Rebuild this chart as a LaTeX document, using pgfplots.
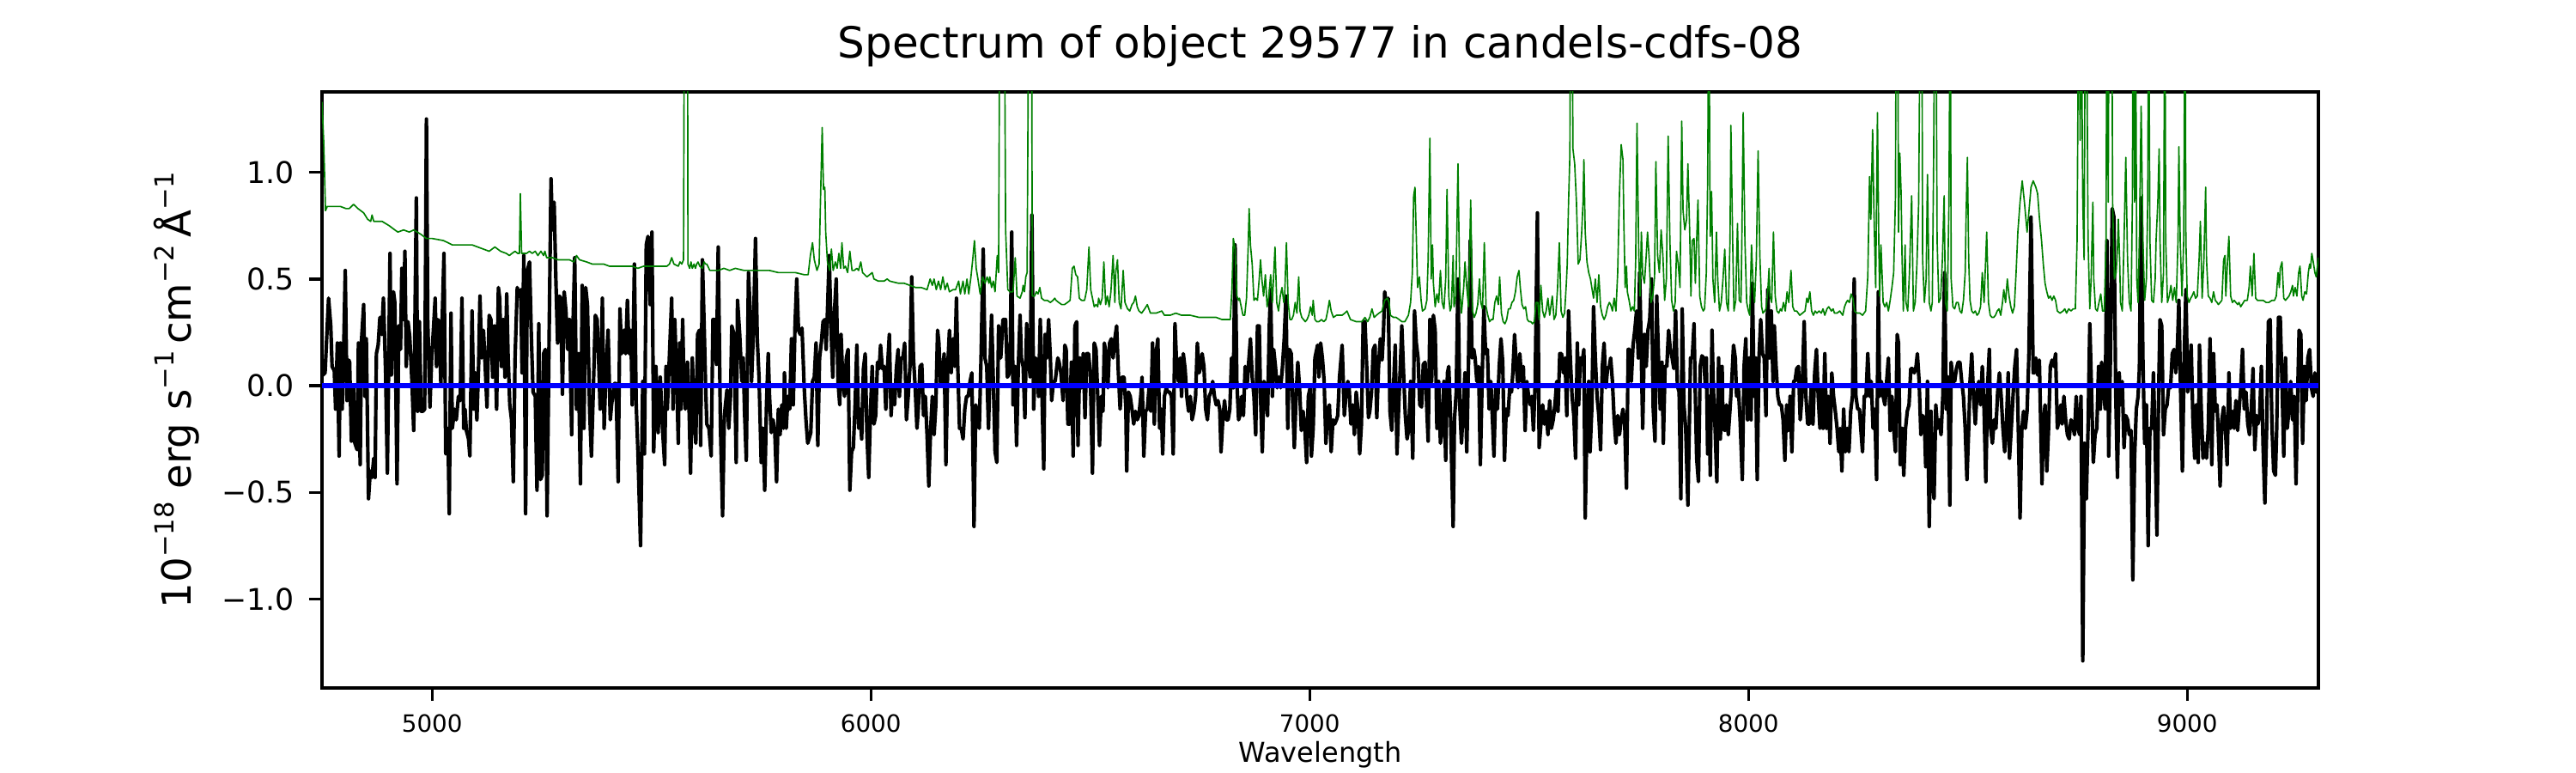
\documentclass[border=0pt]{standalone}
\usepackage{fontspec}
\setmainfont{DejaVu Sans}
\usepackage{pgfplots}
\pgfplotsset{compat=1.18}
\definecolor{mplgreen}{rgb}{0,0.5,0}
\newcommand\sups[1]{\raisebox{7bp}{\fontsize{11bp}{12bp}\selectfont #1}}
\begin{document}
\begin{tikzpicture}
\useasboundingbox (-135bp,-35.64bp) rectangle (945bp,288.36bp);
\begin{axis}[
 at={(0,0)}, anchor=south west,
 scale only axis, width=837bp, height=249.84bp,
 xmin=4749, xmax=9299, ymin=-1.417, ymax=1.377,
 xtick={5000,6000,7000,8000,9000},
 xticklabels={5000,6000,7000,8000,9000},
 ytick={-1,-0.5,0,0.5,1},
 yticklabels={−1.0,−0.5,0.0,0.5,1.0},
 xtick pos=left, ytick pos=left,
 tick align=outside,
 major tick length=5.4bp,
 tick style={line width=1.2bp, black},
 axis line style={line width=1.2bp},
 xticklabel style={font=\fontsize{10bp}{12bp}\selectfont, anchor=base, inner sep=0pt, yshift=-13bp},
 yticklabel style={font=\fontsize{12.5bp}{15bp}\selectfont, anchor=east, inner sep=0pt, xshift=-6.1bp},
 title={Spectrum of object 29577 in candels-cdfs-08},
 title style={at={(0.5,1.0332)}, anchor=base, inner sep=0pt, font=\fontsize{18bp}{22bp}\selectfont},
 xlabel={Wavelength},
 xlabel style={at={(0.5,-0.124)}, anchor=base, inner sep=0pt, font=\fontsize{11.5bp}{14bp}\selectfont},
 ylabel={10\sups{−18} erg s\sups{−1}\,cm\sups{−2}\,Å\sups{−1}},
 ylabel style={at={(-0.0657,0.5)}, anchor=base, inner sep=0pt, font=\fontsize{16.8bp}{20bp}\selectfont},
 clip=true,
]
% flux (black)
\addplot[black, line width=1.5bp, line join=round] coordinates {
(4749,0.05)(4751,0.05)(4756,0.06)(4764,0.41)(4769,0.28)(4772,0.09)(4777,0.07)(4780,-0.11)(4784,0.20)(4788,-0.33)(4791,0.20)(4795,-0.11)(4798,0.13)(4802,0.54)(4806,-0.07)(4810,0.12)(4812,0.11)(4816,-0.26)(4821,-0.01)(4824,-0.27)(4829,-0.30)(4832,0.20)(4836,-0.37)(4839,0.21)(4844,0.38)(4847,-0.05)(4850,0.22)(4855,-0.53)(4859,-0.40)(4863,-0.43)(4867,-0.34)(4870,-0.43)(4873,0.15)(4877,0.19)(4881,0.32)(4885,0.24)(4889,0.41)(4894,0.06)(4898,-0.41)(4904,0.62)(4907,0.05)(4912,0.44)(4915,0.39)(4920,-0.46)(4924,0.28)(4928,0.17)(4931,0.55)(4935,0.31)(4938,0.63)(4941,0.09)(4945,0.30)(4949,0.23)(4954,0.02)(4958,-0.21)(4964,0.88)(4967,-0.12)(4971,0.30)(4975,-0.12)(4979,-0.12)(4983,-0.11)(4987,1.25)(4990,0.31)(4995,-0.10)(4999,0.13)(5002,0.23)(5007,0.41)(5010,0.09)(5013,0.31)(5016,0.30)(5020,0.00)(5023,0.31)(5027,0.62)(5031,-0.32)(5036,-0.20)(5039,-0.60)(5043,0.34)(5046,-0.20)(5051,-0.11)(5055,-0.16)(5060,-0.05)(5064,-0.07)(5068,0.41)(5072,-0.20)(5075,-0.11)(5078,-0.21)(5083,-0.25)(5086,-0.33)(5091,0.35)(5095,-0.11)(5098,0.06)(5102,-0.16)(5106,0.10)(5109,0.42)(5113,0.13)(5117,0.26)(5121,0.09)(5125,-0.10)(5130,0.33)(5134,0.31)(5138,0.04)(5142,0.28)(5147,-0.11)(5151,0.46)(5154,0.41)(5158,0.09)(5162,0.31)(5166,0.04)(5170,0.43)(5173,0.15)(5177,-0.09)(5181,-0.16)(5185,-0.45)(5189,0.13)(5194,0.46)(5198,0.42)(5202,0.45)(5205,0.06)(5209,0.61)(5213,-0.60)(5217,0.54)(5222,0.58)(5226,0.24)(5230,-0.03)(5235,-0.05)(5239,-0.49)(5243,0.29)(5247,-0.44)(5251,-0.42)(5254,0.15)(5258,0.17)(5262,-0.61)(5266,0.13)(5271,0.97)(5274,0.73)(5278,0.86)(5282,0.50)(5286,0.20)(5290,0.42)(5293,0.41)(5297,-0.04)(5301,0.44)(5305,0.35)(5309,0.17)(5313,0.31)(5318,-0.23)(5321,0.28)(5325,0.60)(5329,-0.11)(5333,0.15)(5338,-0.46)(5342,0.47)(5346,-0.20)(5350,0.46)(5354,0.38)(5359,-0.12)(5363,-0.33)(5367,-0.05)(5372,0.33)(5376,0.31)(5380,0.09)(5383,-0.11)(5388,0.41)(5392,-0.20)(5396,0.06)(5401,0.26)(5406,-0.16)(5409,-0.09)(5415,0.01)(5419,0.01)(5424,-0.45)(5428,0.36)(5432,0.15)(5437,0.26)(5441,0.15)(5445,0.40)(5449,0.15)(5453,0.26)(5456,-0.09)(5461,0.57)(5465,-0.08)(5469,-0.31)(5475,-0.75)(5480,0.02)(5484,-0.32)(5488,0.66)(5492,0.70)(5497,0.38)(5501,0.72)(5505,-0.31)(5510,0.09)(5515,-0.22)(5520,0.04)
(5525,-0.20)(5530,-0.37)(5533,0.09)(5536,-0.11)(5541,0.15)(5546,0.41)(5549,-0.11)(5553,0.31)(5558,-0.01)(5561,-0.27)(5564,0.20)(5567,-0.11)(5571,0.31)(5574,-0.01)(5577,-0.11)(5582,0.11)(5586,-0.14)(5589,-0.41)(5593,0.13)(5598,-0.20)(5601,-0.27)(5605,0.24)(5609,0.26)(5612,-0.28)(5616,0.59)(5620,0.28)(5623,0.02)(5626,-0.18)(5631,-0.20)(5636,-0.33)(5640,0.31)(5644,0.31)(5648,0.10)(5652,0.65)(5657,-0.18)(5662,-0.61)(5666,-0.14)(5672,-0.02)(5676,-0.20)(5680,-0.05)(5683,0.28)(5688,0.24)(5693,-0.36)(5696,0.40)(5701,0.24)(5706,0.02)(5709,0.13)(5712,-0.12)(5716,-0.35)(5721,0.53)(5724,0.39)(5728,0.02)(5732,0.24)(5737,0.69)(5741,0.22)(5745,0.04)(5750,-0.36)(5754,-0.20)(5758,-0.49)(5762,-0.09)(5766,0.15)(5769,-0.05)(5773,-0.22)(5777,-0.16)(5781,-0.22)(5785,-0.45)(5789,-0.11)(5793,-0.23)(5797,-0.09)(5801,-0.20)(5803,0.06)(5807,-0.20)(5811,-0.05)(5815,-0.11)(5819,0.22)(5823,-0.09)(5827,0.28)(5831,0.50)(5835,0.26)(5839,0.24)(5843,0.27)(5848,-0.01)(5852,-0.16)(5856,-0.27)(5859,-0.25)(5863,-0.22)(5867,0.02)(5871,0.04)(5875,0.20)(5879,-0.28)(5883,0.13)(5887,0.20)(5891,0.30)(5895,0.31)(5898,0.17)(5901,0.35)(5905,0.61)(5909,0.28)(5913,0.04)(5917,0.35)(5921,0.50)(5925,0.02)(5929,-0.09)(5932,0.24)(5936,0.02)(5940,-0.05)(5944,0.13)(5948,0.17)(5952,-0.49)(5956,-0.31)(5960,-0.29)(5964,-0.09)(5968,0.19)(5972,-0.20)(5975,-0.11)(5979,-0.25)(5983,0.08)(5987,0.15)(5991,-0.23)(5995,-0.43)(5999,-0.12)(6003,0.09)(6007,-0.18)(6011,-0.14)(6015,0.11)(6019,0.08)(6022,0.19)(6026,0.08)(6030,0.09)(6034,-0.11)(6038,0.09)(6042,0.24)(6046,-0.14)(6050,0.00)(6054,-0.09)(6058,0.08)(6062,0.17)(6065,-0.05)(6069,0.13)(6073,0.13)(6077,0.20)(6081,-0.16)(6085,-0.05)(6089,0.09)(6093,0.51)(6097,0.13)(6101,-0.01)(6105,-0.20)(6108,-0.11)(6112,0.09)(6116,0.10)(6120,-0.14)(6124,-0.05)(6128,-0.23)(6132,-0.47)(6136,-0.21)(6140,-0.05)(6144,-0.23)(6148,-0.09)(6152,0.26)(6155,0.20)(6159,0.00)(6163,0.06)(6167,0.15)(6171,-0.37)(6175,0.08)(6179,0.26)(6183,0.06)(6187,0.22)(6191,0.09)(6195,0.41)(6198,0.09)(6202,-0.20)(6206,-0.20)(6210,-0.25)(6214,-0.11)(6218,-0.05)(6222,-0.05)(6226,0.02)(6230,0.06)(6235,-0.66)(6239,-0.09)(6243,-0.14)(6247,-0.20)(6251,0.13)(6256,0.64)(6260,0.13)(6264,0.09)(6268,-0.20)(6272,0.13)(6275,0.33)(6279,0.02)(6283,-0.31)(6287,-0.36)(6291,0.28)(6296,0.13)(6301,0.31)
(6307,0.31)(6311,0.04)(6314,0.05)(6317,0.09)(6321,0.72)(6324,-0.09)(6328,0.09)(6332,-0.28)(6336,0.09)(6340,0.33)(6343,0.13)(6347,0.09)(6351,-0.15)(6355,0.29)(6359,0.13)(6363,0.04)(6367,0.80)(6371,-0.11)(6375,0.13)(6379,0.11)(6382,-0.05)(6386,0.31)(6390,-0.05)(6394,-0.39)(6397,0.24)(6401,0.13)(6405,0.31)(6409,0.13)(6412,-0.07)(6416,0.02)(6420,0.02)(6426,0.13)(6429,0.11)(6433,0.06)(6438,-0.07)(6442,0.19)(6445,0.17)(6449,-0.18)(6453,-0.18)(6457,0.11)(6461,-0.33)(6465,0.28)(6469,0.30)(6472,-0.28)(6476,0.13)(6480,-0.01)(6484,0.15)(6488,-0.15)(6492,0.15)(6496,0.15)(6500,0.06)(6505,-0.41)(6509,0.20)(6513,0.17)(6517,-0.05)(6521,-0.28)(6525,-0.05)(6529,-0.12)(6532,0.20)(6536,0.15)(6540,-0.01)(6544,0.20)(6548,0.22)(6552,0.13)(6556,0.22)(6560,0.28)(6564,0.06)(6568,-0.11)(6572,0.04)(6577,0.04)(6581,-0.10)(6583,-0.40)(6587,-0.03)(6591,-0.05)(6595,-0.11)(6599,-0.18)(6603,-0.12)(6607,-0.16)(6611,-0.14)(6615,-0.05)(6618,0.04)(6622,-0.33)(6626,-0.12)(6630,-0.11)(6634,-0.01)(6638,-0.12)(6642,0.20)(6646,-0.18)(6650,0.15)(6654,0.22)(6658,-0.20)(6662,-0.11)(6665,-0.32)(6669,-0.05)(6673,-0.01)(6677,-0.03)(6681,-0.03)(6685,-0.05)(6689,-0.32)(6693,0.29)(6697,0.09)(6701,0.02)(6705,0.13)(6708,-0.05)(6712,0.15)(6716,0.08)(6720,-0.05)(6724,-0.12)(6728,-0.05)(6732,-0.16)(6736,-0.12)(6740,-0.05)(6744,0.20)(6748,0.06)(6752,0.09)(6755,0.15)(6759,0.09)(6763,-0.11)(6767,-0.16)(6771,-0.05)(6775,-0.03)(6779,0.02)(6783,-0.05)(6787,-0.09)(6791,-0.07)(6795,-0.11)(6798,-0.31)(6802,-0.16)(6806,-0.07)(6810,-0.16)(6814,-0.16)(6818,-0.11)(6822,0.13)(6826,-0.01)(6830,0.66)(6834,0.02)(6838,-0.16)(6841,-0.14)(6845,-0.05)(6849,-0.14)(6853,0.09)(6857,-0.01)(6861,0.11)(6865,0.22)(6869,0.04)(6873,-0.05)(6877,-0.23)(6881,0.28)(6885,0.28)(6888,-0.05)(6892,-0.31)(6896,0.02)(6900,-0.01)(6904,-0.14)(6908,0.28)(6911,0.45)(6915,-0.05)(6918,0.17)(6922,0.09)(6926,-0.01)(6930,0.04)(6934,-0.01)(6938,0.09)(6942,0.22)(6946,0.42)(6950,-0.20)(6954,0.17)(6958,0.15)(6961,-0.05)(6965,-0.29)(6969,-0.05)(6973,0.11)(6977,-0.01)(6981,-0.21)(6985,-0.12)(6989,-0.20)(6993,-0.36)(6997,-0.05)(7001,-0.01)(7004,-0.33)(7008,-0.20)(7012,0.13)(7018,0.19)(7021,0.04)(7025,0.20)(7029,0.13)(7033,0.02)(7037,-0.27)(7041,-0.11)(7045,-0.09)(7049,-0.31)(7053,-0.16)(7057,-0.18)(7061,-0.16)(7064,-0.14)(7068,0.04)(7074,0.19)(7079,-0.14)(7084,-0.01)
(7087,0.02)(7090,-0.01)(7094,-0.18)(7098,-0.09)(7102,-0.23)(7106,-0.03)(7110,-0.11)(7114,-0.32)(7118,-0.18)(7122,0.30)(7126,0.30)(7130,0.09)(7134,-0.15)(7137,-0.12)(7141,-0.03)(7145,0.17)(7149,0.19)(7153,-0.15)(7157,0.09)(7161,0.22)(7165,0.12)(7168,0.24)(7171,0.44)(7175,0.37)(7179,0.41)(7183,-0.12)(7187,-0.21)(7191,-0.01)(7195,0.19)(7199,-0.32)(7203,-0.09)(7207,0.11)(7210,0.28)(7214,0.06)(7218,-0.14)(7222,-0.25)(7226,-0.20)(7230,0.02)(7235,-0.34)(7239,0.35)(7243,0.20)(7247,0.13)(7251,-0.09)(7255,-0.10)(7259,0.10)(7263,0.11)(7267,-0.11)(7270,-0.26)(7274,0.31)(7278,0.02)(7282,0.33)(7286,0.26)(7290,-0.20)(7294,0.02)(7298,-0.27)(7302,-0.20)(7306,0.02)(7310,-0.35)(7314,0.06)(7317,0.09)(7321,-0.14)(7327,-0.66)(7330,-0.16)(7334,-0.03)(7338,0.50)(7342,-0.09)(7346,-0.27)(7350,-0.10)(7354,0.06)(7358,-0.31)(7362,0.11)(7366,0.68)(7370,0.13)(7374,0.17)(7377,0.13)(7381,0.02)(7385,0.09)(7389,-0.37)(7393,0.02)(7397,0.37)(7401,0.15)(7405,0.17)(7409,-0.11)(7413,0.02)(7417,-0.18)(7420,-0.33)(7424,-0.01)(7428,-0.11)(7432,0.09)(7436,0.22)(7440,0.11)(7444,-0.35)(7448,-0.11)(7452,-0.14)(7456,-0.01)(7460,-0.03)(7463,0.06)(7467,0.24)(7471,0.09)(7475,-0.01)(7479,0.15)(7483,0.02)(7487,0.09)(7491,-0.21)(7495,0.02)(7499,-0.05)(7503,-0.09)(7506,-0.05)(7510,-0.21)(7514,0.02)(7519,0.81)(7523,-0.29)(7527,-0.18)(7531,-0.09)(7535,-0.18)(7539,-0.12)(7543,-0.23)(7547,-0.07)(7551,-0.20)(7555,-0.16)(7559,-0.09)(7563,0.02)(7566,-0.12)(7570,0.15)(7574,0.15)(7578,0.06)(7582,0.13)(7586,-0.14)(7590,0.35)(7594,0.13)(7598,-0.05)(7602,-0.14)(7606,-0.34)(7610,0.20)(7613,-0.09)(7617,0.13)(7621,0.11)(7625,0.17)(7628,-0.62)(7632,-0.16)(7636,0.02)(7639,-0.31)(7643,-0.11)(7647,0.37)(7651,0.13)(7655,-0.05)(7659,-0.14)(7663,-0.30)(7667,0.09)(7671,0.20)(7675,-0.01)(7679,0.08)(7683,0.09)(7686,0.13)(7690,0.02)(7694,-0.16)(7698,-0.27)(7702,-0.14)(7706,-0.23)(7710,-0.16)(7714,-0.11)(7718,-0.18)(7722,-0.48)(7726,0.17)(7729,0.17)(7733,0.02)(7737,0.19)(7741,0.26)(7745,0.35)(7749,0.13)(7752,0.53)(7756,0.13)(7759,-0.20)(7763,0.24)(7767,0.09)(7771,0.26)(7775,0.31)(7779,0.50)(7783,-0.11)(7787,-0.26)(7791,0.42)(7795,0.13)(7799,-0.11)(7803,0.11)(7806,-0.27)(7810,0.09)(7814,0.09)(7818,0.26)(7822,0.17)(7826,0.13)(7830,0.08)(7834,0.35)(7838,0.00)(7842,-0.03)(7846,-0.53)(7849,0.36)(7853,-0.09)(7857,-0.20)(7862,-0.56)(7868,0.13)
(7872,0.13)(7876,0.29)(7879,-0.05)(7882,-0.34)(7886,-0.45)(7890,0.09)(7894,0.14)(7898,0.13)(7902,-0.01)(7904,0.13)(7907,-0.32)(7910,-0.05)(7913,-0.42)(7917,0.26)(7920,-0.01)(7924,-0.20)(7928,-0.45)(7932,0.13)(7936,-0.25)(7940,0.09)(7942,-0.20)(7946,-0.21)(7950,-0.09)(7954,-0.23)(7958,-0.11)(7962,0.02)(7966,0.19)(7970,0.13)(7973,-0.05)(7977,-0.01)(7981,-0.16)(7986,-0.44)(7990,0.09)(7994,0.22)(7998,-0.16)(8002,0.13)(8006,-0.16)(8009,0.48)(8013,-0.05)(8016,0.13)(8020,-0.44)(8024,0.13)(8028,0.31)(8032,0.15)(8036,0.13)(8040,-0.14)(8044,0.45)(8048,0.13)(8052,0.35)(8056,0.02)(8059,0.28)(8063,0.09)(8067,-0.05)(8071,-0.09)(8075,-0.09)(8079,-0.16)(8083,-0.35)(8087,-0.09)(8091,-0.21)(8095,-0.05)(8099,-0.31)(8103,0.02)(8106,0.02)(8110,0.08)(8114,0.09)(8118,-0.16)(8122,-0.05)(8127,0.30)(8131,-0.05)(8135,-0.18)(8139,-0.18)(8143,-0.01)(8147,-0.18)(8151,0.06)(8155,0.17)(8159,-0.05)(8163,-0.20)(8166,-0.01)(8170,-0.20)(8174,0.15)(8178,-0.20)(8182,-0.05)(8186,-0.27)(8190,0.06)(8194,-0.05)(8198,-0.12)(8202,-0.20)(8206,-0.31)(8209,-0.20)(8213,-0.40)(8217,-0.11)(8221,-0.31)(8225,-0.20)(8229,-0.31)(8233,-0.12)(8237,-0.05)(8241,0.50)(8245,-0.05)(8249,-0.11)(8253,-0.11)(8256,-0.20)(8260,-0.31)(8264,-0.05)(8268,-0.05)(8272,0.15)(8276,-0.05)(8280,0.02)(8284,-0.20)(8288,-0.11)(8292,-0.44)(8296,0.44)(8299,-0.05)(8303,0.02)(8307,-0.05)(8311,-0.09)(8315,0.02)(8319,0.13)(8323,-0.21)(8327,-0.05)(8331,-0.20)(8335,-0.31)(8339,0.24)(8342,0.20)(8346,-0.37)(8350,-0.20)(8354,-0.42)(8358,-0.20)(8362,-0.12)(8366,-0.09)(8370,0.08)(8374,0.08)(8378,0.06)(8382,0.09)(8385,0.15)(8389,0.02)(8393,-0.23)(8397,-0.14)(8401,-0.16)(8404,-0.38)(8408,0.02)(8412,-0.66)(8416,-0.12)(8419,-0.43)(8423,-0.53)(8427,-0.09)(8431,-0.20)(8435,-0.16)(8439,-0.23)(8443,-0.05)(8447,0.53)(8451,-0.11)(8455,0.04)(8459,-0.56)(8462,0.11)(8466,0.02)(8470,0.02)(8474,0.08)(8478,0.11)(8482,0.11)(8486,0.02)(8490,-0.05)(8494,-0.20)(8498,-0.44)(8502,-0.20)(8505,0.02)(8509,0.15)(8513,-0.05)(8517,-0.18)(8521,-0.03)(8525,0.02)(8529,-0.09)(8533,0.09)(8537,-0.11)(8541,-0.45)(8545,-0.01)(8549,0.17)(8552,-0.20)(8556,-0.27)(8560,-0.16)(8564,-0.20)(8568,-0.03)(8572,0.06)(8576,-0.05)(8580,-0.20)(8584,-0.31)(8588,-0.18)(8592,0.06)(8595,-0.34)(8599,-0.20)(8603,-0.05)(8607,0.09)(8611,0.17)(8615,-0.20)(8619,-0.62)(8623,-0.21)(8627,-0.12)(8631,-0.20)(8635,-0.12)(8639,0.13)(8644,0.79)(8649,0.06)
(8652,0.06)(8655,0.13)(8659,0.05)(8663,0.12)(8669,-0.46)(8672,-0.18)(8676,-0.09)(8680,-0.40)(8684,-0.20)(8688,0.09)(8692,0.12)(8696,0.09)(8700,0.15)(8704,-0.20)(8708,-0.16)(8712,-0.09)(8715,-0.18)(8719,-0.05)(8723,-0.16)(8727,-0.23)(8731,-0.25)(8735,-0.16)(8739,-0.18)(8743,-0.23)(8747,-0.05)(8751,-0.20)(8755,-0.23)(8758,-0.05)(8762,-1.29)(8766,-0.27)(8770,-0.53)(8774,-0.20)(8778,0.29)(8782,-0.03)(8786,-0.36)(8790,-0.23)(8794,-0.20)(8798,0.09)(8802,-0.11)(8805,0.11)(8809,-0.01)(8813,-0.11)(8817,0.68)(8821,-0.33)(8825,0.13)(8829,0.83)(8833,0.79)(8837,-0.03)(8841,-0.43)(8845,0.06)(8848,-0.09)(8852,0.02)(8856,-0.29)(8860,-0.14)(8864,-0.16)(8868,-0.23)(8872,-0.21)(8876,-0.91)(8880,-0.34)(8884,-0.11)(8888,-0.05)(8891,0.08)(8895,0.88)(8899,0.13)(8903,-0.27)(8907,-0.09)(8911,-0.75)(8915,-0.20)(8919,-0.20)(8923,0.06)(8927,-0.27)(8931,-0.70)(8935,-0.01)(8938,0.31)(8942,0.28)(8946,-0.23)(8950,-0.11)(8954,-0.09)(8958,0.00)(8962,-0.01)(8966,0.15)(8970,0.17)(8974,0.06)(8978,0.20)(8981,0.40)(8985,-0.03)(8989,-0.40)(8993,0.13)(8997,0.45)(9001,-0.03)(9005,0.02)(9009,0.19)(9013,-0.16)(9017,-0.34)(9021,-0.09)(9025,-0.36)(9028,0.19)(9032,-0.11)(9036,-0.34)(9040,-0.27)(9044,-0.34)(9048,-0.20)(9052,0.22)(9056,-0.37)(9060,0.15)(9064,-0.12)(9068,-0.09)(9071,-0.23)(9075,-0.47)(9079,-0.16)(9083,-0.10)(9087,-0.20)(9091,-0.37)(9095,0.06)(9099,-0.20)(9103,-0.12)(9107,-0.20)(9111,-0.07)(9115,-0.21)(9118,-0.12)(9122,-0.01)(9126,0.17)(9130,-0.11)(9134,-0.03)(9138,-0.18)(9142,-0.23)(9146,-0.11)(9150,0.08)(9154,-0.30)(9158,-0.14)(9161,-0.18)(9165,-0.14)(9169,0.09)(9173,-0.29)(9177,-0.55)(9181,-0.20)(9185,0.30)(9189,0.31)(9193,-0.18)(9197,-0.40)(9201,-0.42)(9204,-0.20)(9208,0.32)(9212,0.32)(9216,0.02)(9220,-0.33)(9224,0.13)(9228,-0.20)(9232,-0.11)(9236,0.02)(9240,-0.16)(9244,-0.05)(9248,-0.46)(9251,-0.11)(9255,0.26)(9259,0.24)(9263,-0.27)(9267,0.09)(9271,-0.07)(9275,0.13)(9279,0.17)(9283,-0.01)(9287,-0.05)(9291,0.06)(9294,-0.03)(9298,0.05)
};
% error / sky (green)
\addplot[mplgreen, line width=0.6bp, line join=round] coordinates {
(4749,1.33)(4753,1.14)(4757,0.82)(4761,0.84)(4778,0.84)(4791,0.84)(4804,0.83)(4811,0.83)(4821,0.85)(4831,0.83)(4844,0.81)(4853,0.78)(4860,0.77)(4863,0.80)(4867,0.77)(4876,0.77)(4886,0.77)(4902,0.75)(4915,0.73)(4922,0.72)(4935,0.73)(4948,0.72)(4958,0.73)(4974,0.71)(4987,0.69)(5000,0.69)(5026,0.68)(5046,0.66)(5065,0.66)(5091,0.66)(5117,0.64)(5130,0.63)(5143,0.65)(5156,0.63)(5169,0.62)(5176,0.61)(5182,0.62)(5189,0.63)(5195,0.62)(5199,0.62)(5201,0.90)(5204,0.62)(5215,0.62)(5222,0.63)(5228,0.62)(5235,0.63)(5241,0.61)(5248,0.63)(5254,0.61)(5257,0.63)(5261,0.60)(5274,0.60)(5287,0.59)(5300,0.59)(5313,0.59)(5323,0.58)(5329,0.61)(5336,0.59)(5352,0.58)(5365,0.57)(5378,0.57)(5391,0.57)(5404,0.56)(5417,0.56)(5430,0.56)(5443,0.56)(5456,0.56)(5469,0.55)(5482,0.56)(5495,0.56)(5515,0.56)
(5522,0.56)(5535,0.56)(5541,0.57)(5546,0.60)(5551,0.57)(5561,0.56)(5565,0.58)(5569,0.57)(5573,0.59)(5575,2.0)(5582,2.0)(5583,0.57)(5587,0.55)(5590,0.58)(5593,0.55)(5597,0.57)(5600,0.55)(5603,0.57)(5606,0.58)(5610,0.56)(5616,0.55)(5620,0.58)(5623,0.57)(5626,0.57)(5633,0.54)(5639,0.54)(5652,0.54)(5665,0.55)(5678,0.54)(5691,0.55)(5711,0.54)(5730,0.54)(5750,0.54)(5769,0.54)(5789,0.53)(5809,0.53)(5828,0.53)(5848,0.52)(5857,0.52)(5862,0.61)(5867,0.67)(5871,0.59)(5877,0.54)(5882,0.57)(5885,0.86)(5889,1.21)(5892,0.92)(5895,0.93)(5897,0.72)(5901,0.58)(5906,0.54)(5910,0.64)(5914,0.54)(5919,0.58)(5923,0.55)(5927,0.62)(5931,0.55)(5934,0.67)(5938,0.55)(5942,0.56)(5947,0.53)(5952,0.63)(5957,0.54)(5962,0.54)(5968,0.55)(5972,0.54)(5977,0.58)(5981,0.53)(5991,0.51)(6003,0.53)(6007,0.50)(6017,0.49)(6030,0.49)(6037,0.50)(6043,0.49)(6063,0.48)(6076,0.48)(6089,0.47)(6102,0.46)(6115,0.46)(6128,0.45)(6135,0.50)(6140,0.47)(6144,0.50)(6149,0.45)(6154,0.49)(6159,0.45)(6164,0.51)(6169,0.45)(6174,0.48)(6179,0.44)(6187,0.45)(6193,0.45)(6200,0.49)(6204,0.43)(6210,0.49)(6214,0.43)(6219,0.50)(6223,0.43)(6228,0.51)(6232,0.59)(6236,0.68)(6240,0.55)(6244,0.50)(6249,0.43)(6255,0.51)(6260,0.48)(6265,0.51)(6269,0.48)(6271,0.51)(6275,0.46)(6279,0.49)(6283,0.44)(6288,0.61)(6291,0.53)(6294,2.0)(6300,2.0)(6304,2.0)
(6307,0.73)(6312,0.45)(6317,0.44)(6324,0.44)(6329,0.60)(6333,0.42)(6340,0.41)(6345,0.44)(6347,0.47)(6350,0.44)(6353,0.51)(6356,0.53)(6360,2.0)(6366,2.0)(6368,0.42)(6373,0.42)(6377,0.44)(6381,0.43)(6385,0.46)(6389,0.41)(6395,0.40)(6402,0.40)(6409,0.39)(6415,0.40)(6419,0.41)(6422,0.40)(6428,0.39)(6435,0.38)(6441,0.38)(6448,0.39)(6454,0.40)(6459,0.55)(6463,0.56)(6467,0.52)(6471,0.51)(6475,0.41)(6480,0.40)(6487,0.40)(6492,0.45)(6497,0.65)(6501,0.45)(6505,0.41)(6509,0.37)(6513,0.38)(6517,0.37)(6519,0.41)(6523,0.38)(6527,0.41)(6531,0.58)(6535,0.38)(6539,0.42)(6543,0.37)(6547,0.44)(6552,0.61)(6556,0.39)(6558,0.53)(6562,0.59)(6566,0.39)(6570,0.36)(6575,0.54)(6579,0.39)(6585,0.36)(6590,0.35)(6595,0.38)(6599,0.39)(6603,0.42)(6607,0.37)(6611,0.35)(6617,0.34)(6624,0.36)(6630,0.38)(6637,0.34)(6650,0.34)(6663,0.35)(6669,0.33)(6682,0.33)(6695,0.34)(6708,0.33)(6728,0.33)(6748,0.32)(6761,0.32)(6774,0.32)(6787,0.32)(6800,0.31)(6819,0.31)(6823,0.46)(6826,0.69)(6830,0.64)(6834,0.42)(6838,0.40)(6840,0.41)(6844,0.37)(6848,0.33)(6852,0.33)(6856,0.41)(6860,0.66)(6862,0.83)(6865,0.66)(6869,0.57)(6873,0.40)(6877,0.41)(6881,0.40)(6885,0.50)(6888,0.59)(6891,0.50)(6895,0.42)(6899,0.52)(6903,0.37)(6907,0.42)(6911,0.52)(6915,0.39)(6918,0.52)(6921,0.65)(6925,0.39)(6929,0.35)(6933,0.42)(6937,0.46)(6941,0.39)(6943,0.42)(6947,0.67)(6951,0.39)(6955,0.31)(6959,0.31)(6963,0.33)(6967,0.39)(6971,0.34)(6975,0.51)(6978,0.35)(6982,0.32)(6986,0.31)(6990,0.30)(6994,0.31)(6998,0.33)(7002,0.37)(7006,0.33)(7008,0.40)(7012,0.31)(7016,0.30)(7021,0.30)(7027,0.31)(7032,0.30)(7037,0.31)(7041,0.35)(7045,0.40)(7049,0.35)(7054,0.32)(7061,0.33)(7067,0.33)(7074,0.33)(7080,0.34)(7085,0.35)
(7087,0.34)(7093,0.31)(7106,0.30)(7119,0.30)(7126,0.32)(7132,0.30)(7137,0.32)(7142,0.36)(7147,0.32)(7152,0.33)(7158,0.34)(7165,0.35)(7171,0.40)(7177,0.41)(7181,0.39)(7184,0.33)(7191,0.32)(7197,0.32)(7204,0.31)(7210,0.30)(7217,0.30)(7225,0.33)(7230,0.39)(7234,0.53)(7237,0.89)(7240,0.93)(7243,0.70)(7246,0.46)(7250,0.51)(7254,0.40)(7257,0.35)(7263,0.36)(7267,0.40)(7270,0.59)(7274,1.16)(7277,0.50)(7280,0.66)(7282,0.48)(7286,0.37)(7290,0.43)(7294,0.39)(7298,0.54)(7302,0.39)(7306,0.36)(7310,0.50)(7313,0.92)(7317,0.42)(7320,0.35)(7323,0.37)(7327,0.61)(7329,0.37)(7333,0.42)(7338,1.04)(7342,0.46)(7346,0.34)(7351,0.46)(7354,0.58)(7358,0.46)(7362,0.37)(7367,0.87)(7371,0.35)(7375,0.32)(7379,0.34)(7383,0.38)(7387,0.50)(7390,0.39)(7394,0.36)(7398,0.67)(7402,0.37)(7406,0.33)(7410,0.30)(7414,0.31)(7418,0.31)(7422,0.39)(7426,0.42)(7430,0.38)(7433,0.51)(7437,0.34)(7441,0.30)(7445,0.29)(7449,0.31)(7453,0.36)(7457,0.36)(7461,0.39)(7465,0.40)(7469,0.44)(7473,0.51)(7477,0.54)(7480,0.46)(7484,0.38)(7488,0.36)(7492,0.37)(7496,0.31)(7500,0.30)(7504,0.30)(7508,0.29)(7512,0.30)(7516,0.39)(7520,0.39)(7523,0.31)(7527,0.47)(7531,0.35)(7535,0.32)(7539,0.35)(7543,0.41)(7547,0.33)(7551,0.39)(7553,0.42)(7557,0.31)(7561,0.33)(7565,0.46)(7569,0.67)(7573,0.35)(7577,0.32)(7581,0.34)(7585,0.48)(7587,0.57)(7590,0.86)(7593,1.08)(7595,2.0)(7598,2.0)(7600,1.11)(7604,1.04)(7608,0.86)(7612,0.57)(7616,0.59)(7620,0.72)(7623,0.86)(7625,1.06)(7628,0.72)(7632,0.58)(7636,0.53)(7640,0.50)(7643,0.46)(7647,0.41)(7651,0.50)(7655,0.39)(7659,0.52)(7663,0.37)(7667,0.33)(7671,0.31)(7675,0.33)(7679,0.37)(7683,0.39)(7686,0.38)(7690,0.35)(7694,0.41)(7698,0.35)(7702,0.53)(7706,0.90)(7710,1.13)(7714,1.06)(7716,0.77)(7719,0.46)(7722,0.56)(7724,0.44)(7728,0.40)(7732,0.35)(7736,0.37)(7740,0.35)(7743,0.59)(7746,1.23)(7750,0.62)(7753,0.42)(7756,0.72)(7759,0.52)(7763,0.48)(7767,0.61)(7770,0.72)(7774,0.59)(7778,0.39)(7782,0.42)(7786,0.51)(7789,1.05)(7793,0.61)(7797,0.53)(7801,0.73)(7805,0.61)(7809,0.40)(7813,0.50)(7817,1.17)(7821,0.68)(7825,0.40)(7829,0.35)(7833,0.39)(7836,0.63)(7840,0.57)(7844,0.46)(7848,1.24)(7851,0.82)(7855,0.73)(7859,0.78)(7862,1.04)(7866,0.73)
(7869,0.42)(7872,0.68)(7876,0.69)(7879,0.48)(7882,0.68)(7885,0.87)(7889,0.42)(7893,0.37)(7897,0.35)(7900,0.36)(7904,0.53)(7907,0.95)(7910,2.0)(7912,0.95)(7913,0.70)(7916,0.91)(7919,0.50)(7923,0.39)(7927,0.72)(7930,0.50)(7934,0.35)(7938,0.39)(7942,0.50)(7946,0.64)(7950,0.39)(7954,0.35)(7958,0.68)(7960,1.22)(7964,0.68)(7967,0.35)(7971,0.40)(7975,0.76)(7979,0.40)(7983,0.39)(7985,0.68)(7988,1.28)(7992,0.68)(7996,0.39)(8000,0.35)(8003,0.33)(8007,0.66)(8010,0.50)(8014,0.39)(8018,0.59)(8022,1.10)(8026,0.61)(8030,0.37)(8033,0.34)(8037,0.35)(8040,0.36)(8044,0.44)(8047,0.55)(8049,0.42)(8053,0.39)(8057,0.72)(8061,0.42)(8065,0.35)(8069,0.34)(8073,0.36)(8076,0.35)(8080,0.39)(8084,0.35)(8088,0.44)(8092,0.39)(8097,0.54)(8101,0.37)(8105,0.35)(8110,0.35)(8117,0.33)(8123,0.34)(8129,0.35)(8133,0.41)(8136,0.39)(8140,0.44)(8144,0.35)(8148,0.33)(8152,0.35)(8156,0.34)(8161,0.35)(8166,0.34)(8170,0.36)(8174,0.33)(8179,0.36)(8183,0.37)(8189,0.35)(8193,0.36)(8196,0.34)(8202,0.34)(8208,0.35)(8215,0.33)(8219,0.37)(8223,0.39)(8226,0.40)(8230,0.39)(8234,0.43)(8238,0.41)(8242,0.35)(8247,0.34)(8254,0.34)(8260,0.33)(8267,0.35)(8272,0.51)(8276,0.98)(8279,0.78)(8283,1.20)(8286,0.82)(8290,0.46)(8294,1.28)(8297,0.68)(8299,0.42)(8302,0.66)(8305,0.50)(8307,0.39)(8311,0.37)(8315,0.39)(8319,0.35)(8323,0.40)(8327,0.46)(8331,0.53)(8335,0.88)(8337,2.0)(8340,2.0)(8342,0.72)(8345,1.09)(8348,0.90)(8350,0.61)(8353,0.35)(8357,0.66)(8359,0.39)(8363,0.35)(8367,0.53)(8372,0.89)(8376,0.35)(8380,0.39)(8384,0.57)(8388,0.86)(8392,2.0)(8395,2.0)(8397,0.59)(8401,0.39)(8405,0.50)(8408,0.99)(8412,0.39)(8416,0.35)(8419,0.39)(8422,1.04)(8425,2.0)(8427,2.0)(8430,0.68)(8434,0.39)(8438,0.41)(8442,0.59)(8446,0.89)(8449,0.39)(8453,0.35)(8457,0.86)(8460,2.0)(8462,0.50)(8466,0.37)(8470,0.36)(8474,0.39)(8478,0.39)(8482,0.35)(8486,0.34)(8490,0.40)(8494,0.53)(8496,0.79)(8499,1.07)(8502,0.59)(8505,0.40)(8509,0.35)(8513,0.34)(8517,0.35)(8521,0.33)(8525,0.34)(8529,0.37)(8533,0.53)(8537,0.39)(8541,0.61)(8543,0.72)(8547,0.39)(8551,0.33)(8555,0.32)(8559,0.32)(8563,0.33)(8567,0.35)(8571,0.36)(8575,0.33)(8579,0.39)(8582,0.45)(8586,0.39)(8590,0.50)(8594,0.42)(8598,0.37)(8602,0.34)(8606,0.37)(8610,0.53)(8614,0.72)(8619,0.86)(8624,0.96)(8629,0.86)(8635,0.72)(8639,0.81)(8644,0.93)(8649,0.96)
(8655,0.93)(8659,0.90)(8663,0.79)(8668,0.68)(8672,0.57)(8676,0.48)(8680,0.44)(8684,0.41)(8688,0.42)(8692,0.40)(8696,0.42)(8700,0.40)(8704,0.35)(8710,0.34)(8717,0.35)(8721,0.36)(8725,0.34)(8730,0.36)(8735,0.35)(8740,0.36)(8745,0.36)(8749,0.68)(8753,2.0)(8756,1.15)(8758,2.0)(8762,0.86)(8765,0.59)(8768,2.0)(8770,2.0)(8774,0.68)(8778,0.36)(8781,0.50)(8785,0.86)(8787,0.50)(8791,0.36)(8795,0.35)(8799,0.39)(8803,0.43)(8807,0.35)(8811,0.35)(8815,0.68)(8817,2.0)(8820,0.86)(8822,2.0)(8828,2.0)(8830,0.86)(8834,0.50)(8838,0.53)(8841,0.64)(8843,0.78)(8846,0.59)(8848,0.39)(8852,0.35)(8856,0.68)(8860,1.07)(8864,0.59)(8868,0.39)(8872,0.35)(8875,0.86)(8877,2.0)(8880,0.86)(8882,2.0)(8885,0.50)(8888,0.39)(8891,0.68)(8895,1.31)(8899,0.68)(8903,0.40)(8907,0.50)(8910,0.86)(8912,2.0)(8915,0.68)(8919,0.40)(8923,0.39)(8927,0.50)(8929,0.68)(8933,0.86)(8936,1.11)(8938,0.68)(8942,0.39)(8946,0.53)(8949,2.0)(8951,0.68)(8955,0.39)(8959,0.42)(8963,0.47)(8967,0.40)(8971,0.46)(8975,0.39)(8979,0.68)(8981,1.12)(8984,0.68)(8988,0.42)(8992,0.68)(8995,2.0)(8997,0.68)(9000,0.42)(9004,0.39)(9008,0.41)(9011,0.42)(9015,0.44)(9019,0.41)(9023,0.42)(9027,0.59)(9030,0.77)(9034,0.41)(9038,0.59)(9042,0.93)(9044,0.59)(9048,0.42)(9052,0.41)(9056,0.39)(9060,0.44)(9064,0.40)(9068,0.39)(9071,0.38)(9075,0.39)(9079,0.40)(9083,0.59)(9086,0.61)(9088,0.42)(9092,0.59)(9095,0.70)(9099,0.42)(9103,0.39)(9107,0.40)(9111,0.39)(9115,0.38)(9118,0.39)(9122,0.37)(9128,0.39)(9131,0.40)(9137,0.40)(9141,0.46)(9144,0.56)(9148,0.42)(9152,0.62)(9156,0.41)(9160,0.40)(9167,0.40)(9173,0.40)(9180,0.39)(9186,0.39)(9193,0.40)(9199,0.40)(9203,0.42)(9207,0.53)(9210,0.46)(9212,0.55)(9216,0.58)(9220,0.41)(9224,0.40)(9228,0.41)(9232,0.42)(9236,0.44)(9240,0.47)(9242,0.42)(9246,0.46)(9250,0.42)(9254,0.53)(9257,0.56)(9261,0.42)(9264,0.40)(9268,0.44)(9272,0.43)(9276,0.53)(9279,0.57)(9281,0.55)(9284,0.62)(9288,0.57)(9291,0.53)(9294,0.51)(9299,0.60)
};
% zero line (blue)
\addplot[blue, line width=2bp] coordinates {(4749,0) (9299,0)};
\end{axis}
\end{tikzpicture}
\end{document}
